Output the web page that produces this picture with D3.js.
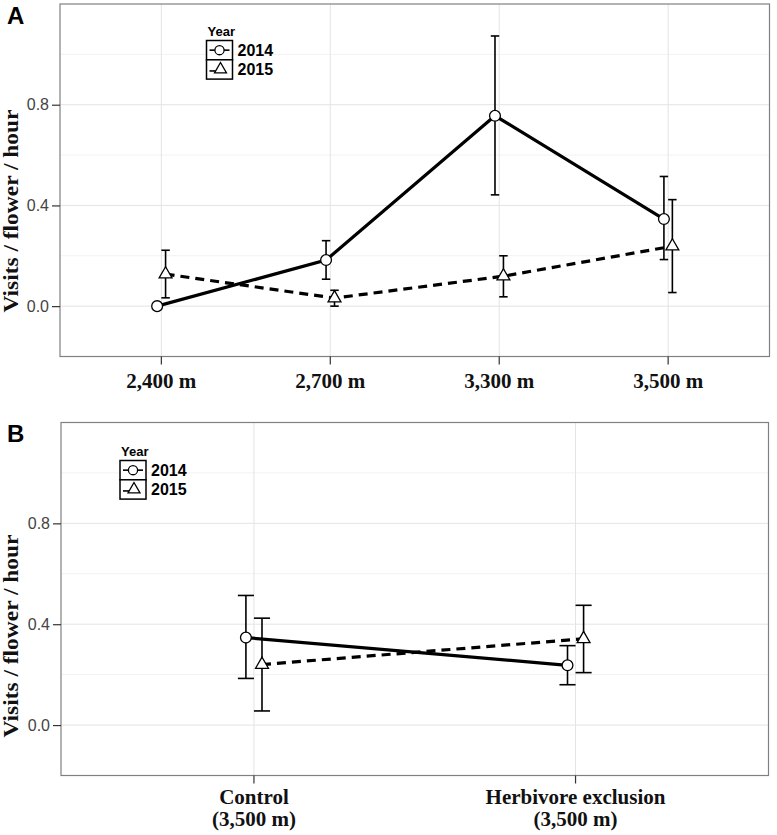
<!DOCTYPE html>
<html>
<head>
<meta charset="utf-8">
<script src="https://cdn.jsdelivr.net/npm/d3@7"></script>
<style>
  html, body { margin: 0; padding: 0; background: #fff; }
  svg { display: block; }
</style>
</head>
<body>
<svg id="chart" width="777" height="835"></svg>
<script>
// ---------- DATA ----------
const years = ["2014", "2015"];

// Panel A: elevations
const elevations = ["2,400 m", "2,700 m", "3,300 m", "3,500 m"];
const meanA2014 = [0.000, 0.183, 0.756, 0.346];
const loA2014   = [0.000, 0.107, 0.442, 0.185];
const hiA2014   = [0.000, 0.260, 1.073, 0.515];
const meanA2015 = [0.127, 0.032, 0.119, 0.238];
const loA2015   = [0.033, 0.000, 0.037, 0.054];
const hiA2015   = [0.222, 0.063, 0.200, 0.423];

// Panel B: treatments at 3,500 m
const treatments = [["Control", "(3,500 m)"], ["Herbivore exclusion", "(3,500 m)"]];
const meanB2014 = [0.347, 0.237];
const loB2014   = [0.185, 0.160];
const hiB2014   = [0.514, 0.315];
const meanB2015 = [0.240, 0.342];
const loB2015   = [0.056, 0.208];
const hiB2015   = [0.424, 0.475];

const yTicks = [0.0, 0.4, 0.8];
const yMinor = [-0.2, 0.2, 0.6, 1.0];
const yTitle = "Visits / flower / hour";

// ---------- DRAWING ----------
const svg = d3.select("#chart");
const serif = "'Liberation Serif', 'Times New Roman', serif";
const sans = "'Liberation Sans', Arial, sans-serif";

function drawPanel(cfg) {
  const g = svg.append("g");
  const n = cfg.cats.length;
  const x = d3.scaleLinear().domain([0.4, n + 0.6]).range([cfg.left, cfg.right]);
  const y = d3.scaleLinear().domain([-0.2, 1.2]).range([cfg.bottom, cfg.top]);
  const dodge = 0.025, cap = 0.025;

  // grid
  g.selectAll(".minor").data(yMinor).join("line")
    .attr("x1", cfg.left).attr("x2", cfg.right)
    .attr("y1", d => y(d)).attr("y2", d => y(d))
    .attr("stroke", "#f2f2f2").attr("stroke-width", 1);
  g.selectAll(".major").data(yTicks).join("line")
    .attr("x1", cfg.left).attr("x2", cfg.right)
    .attr("y1", d => y(d)).attr("y2", d => y(d))
    .attr("stroke", "#e4e4e4").attr("stroke-width", 1);
  g.selectAll(".vgrid").data(d3.range(1, n + 1)).join("line")
    .attr("x1", d => x(d)).attr("x2", d => x(d))
    .attr("y1", cfg.top).attr("y2", cfg.bottom)
    .attr("stroke", "#e4e4e4").attr("stroke-width", 1);

  // border
  g.append("rect")
    .attr("x", cfg.left).attr("y", cfg.top)
    .attr("width", cfg.right - cfg.left).attr("height", cfg.bottom - cfg.top)
    .attr("fill", "none").attr("stroke", "#808080").attr("stroke-width", 1.2);

  // y axis
  const ya = g.append("g").attr("transform", `translate(${cfg.left},0)`)
    .call(d3.axisLeft(y).tickValues(yTicks).tickSize(8).tickPadding(3).tickFormat(d3.format(".1f")));
  ya.select(".domain").remove();
  ya.selectAll(".tick line").attr("stroke", "#333").attr("stroke-width", 1.2);
  ya.selectAll(".tick text").attr("font-family", sans).attr("font-size", 16).attr("fill", "#444");

  // x axis ticks
  g.selectAll(".xtick").data(d3.range(1, n + 1)).join("line")
    .attr("x1", d => x(d)).attr("x2", d => x(d))
    .attr("y1", cfg.bottom).attr("y2", cfg.bottom + 8)
    .attr("stroke", "#333").attr("stroke-width", 1.2);

  // x labels
  cfg.cats.forEach((c, i) => {
    const lines = Array.isArray(c) ? c : [c];
    lines.forEach((t, j) => {
      g.append("text")
        .attr("x", x(i + 1)).attr("y", cfg.labelY + j * 22)
        .attr("text-anchor", "middle")
        .attr("font-family", serif).attr("font-weight", "bold").attr("font-size", 21)
        .attr("fill", "#111").text(t);
    });
  });

  // y title
  g.append("text")
    .attr("transform", `translate(${cfg.titleX},${cfg.titleY}) rotate(-90)`)
    .attr("text-anchor", "middle")
    .attr("font-family", serif).attr("font-weight", "bold").attr("font-size", 21)
    .attr("textLength", 203).attr("lengthAdjust", "spacingAndGlyphs")
    .attr("fill", "#111").text(yTitle);

  // panel letter
  g.append("text").attr("x", 7).attr("y", cfg.letterY)
    .attr("font-family", sans).attr("font-weight", "bold").attr("font-size", 24)
    .attr("fill", "#000").text(cfg.letter);

  const series = [
    { year: years[0], mean: cfg.m1, lo: cfg.l1, hi: cfg.h1, off: -dodge, dash: null, shape: "circle" },
    { year: years[1], mean: cfg.m2, lo: cfg.l2, hi: cfg.h2, off: dodge, dash: "9,6", shape: "triangle" }
  ];

  // error bars
  series.forEach(s => {
    s.mean.forEach((m, i) => {
      const cx = i + 1 + s.off;
      const eb = g.append("g").attr("stroke", "#000").attr("stroke-width", 1.6).attr("fill", "none");
      eb.append("line").attr("x1", x(cx)).attr("x2", x(cx)).attr("y1", y(s.lo[i])).attr("y2", y(s.hi[i]));
      eb.append("line").attr("x1", x(cx - cap)).attr("x2", x(cx + cap)).attr("y1", y(s.lo[i])).attr("y2", y(s.lo[i]));
      eb.append("line").attr("x1", x(cx - cap)).attr("x2", x(cx + cap)).attr("y1", y(s.hi[i])).attr("y2", y(s.hi[i]));
    });
  });

  // lines
  series.forEach(s => {
    const line = d3.line().x((d, i) => x(i + 1 + s.off)).y(d => y(d));
    g.append("path").datum(s.mean).attr("d", line)
      .attr("fill", "none").attr("stroke", "#000").attr("stroke-width", 3.2)
      .attr("stroke-dasharray", s.dash);
  });

  // points
  const tri = d3.symbol().type(d3.symbolTriangle).size(72);
  series.forEach(s => {
    s.mean.forEach((m, i) => {
      const px = x(i + 1 + s.off), py = y(m);
      if (s.shape === "circle") {
        g.append("circle").attr("cx", px).attr("cy", py).attr("r", 5.4)
          .attr("fill", "#fff").attr("stroke", "#000").attr("stroke-width", 1.3);
      } else {
        g.append("path").attr("d", tri()).attr("transform", `translate(${px},${py})`)
          .attr("fill", "#fff").attr("stroke", "#000").attr("stroke-width", 1.3);
      }
    });
  });

  // legend
  const L = cfg.legend;
  const lg = g.append("g");
  lg.append("text").attr("x", L.x + 1).attr("y", L.y - 4.5)
    .attr("font-family", sans).attr("font-weight", "bold").attr("font-size", 13)
    .attr("fill", "#000").text("Year");
  const cw = 26, ch = 19.3;
  years.forEach((yr, k) => {
    const cy0 = L.y + k * ch;
    lg.append("rect").attr("x", L.x).attr("y", cy0).attr("width", cw).attr("height", ch)
      .attr("fill", "#fff").attr("stroke", "#000").attr("stroke-width", 1.5);
    const mx = L.x + cw / 2, my = cy0 + ch / 2;
    if (k === 0) {
      lg.append("line").attr("x1", L.x + 3).attr("x2", L.x + cw - 3).attr("y1", my).attr("y2", my)
        .attr("stroke", "#000").attr("stroke-width", 1.6);
      lg.append("circle").attr("cx", mx).attr("cy", my).attr("r", 4.6)
        .attr("fill", "#fff").attr("stroke", "#000").attr("stroke-width", 1.3);
    } else {
      lg.append("line").attr("x1", L.x + 3).attr("x2", L.x + cw - 3).attr("y1", my + 1.5).attr("y2", my + 1.5)
        .attr("stroke", "#000").attr("stroke-width", 1.6).attr("stroke-dasharray", "6,20");
      lg.append("path").attr("d", d3.symbol().type(d3.symbolTriangle).size(62)())
        .attr("transform", `translate(${mx + 1},${my})`)
        .attr("fill", "#fff").attr("stroke", "#000").attr("stroke-width", 1.3);
    }
    lg.append("text").attr("x", L.x + cw + 5).attr("y", cy0 + ch / 2 + 6)
      .attr("font-family", sans).attr("font-weight", "bold").attr("font-size", 16)
      .attr("fill", "#000").text(yr);
  });
}

drawPanel({
  letter: "A", letterY: 24,
  left: 60, right: 769.5, top: 4, bottom: 356.5,
  cats: elevations, labelY: 388,
  titleX: 18, titleY: 211,
  m1: meanA2014, l1: loA2014, h1: hiA2014,
  m2: meanA2015, l2: loA2015, h2: hiA2015,
  legend: { x: 206.5, y: 40.5 }
});

drawPanel({
  letter: "B", letterY: 442,
  left: 61, right: 768.5, top: 422.5, bottom: 775.5,
  cats: treatments, labelY: 804,
  titleX: 18, titleY: 636,
  m1: meanB2014, l1: loB2014, h1: hiB2014,
  m2: meanB2015, l2: loB2015, h2: hiB2015,
  legend: { x: 120, y: 460.5 }
});
</script>
</body>
</html>
